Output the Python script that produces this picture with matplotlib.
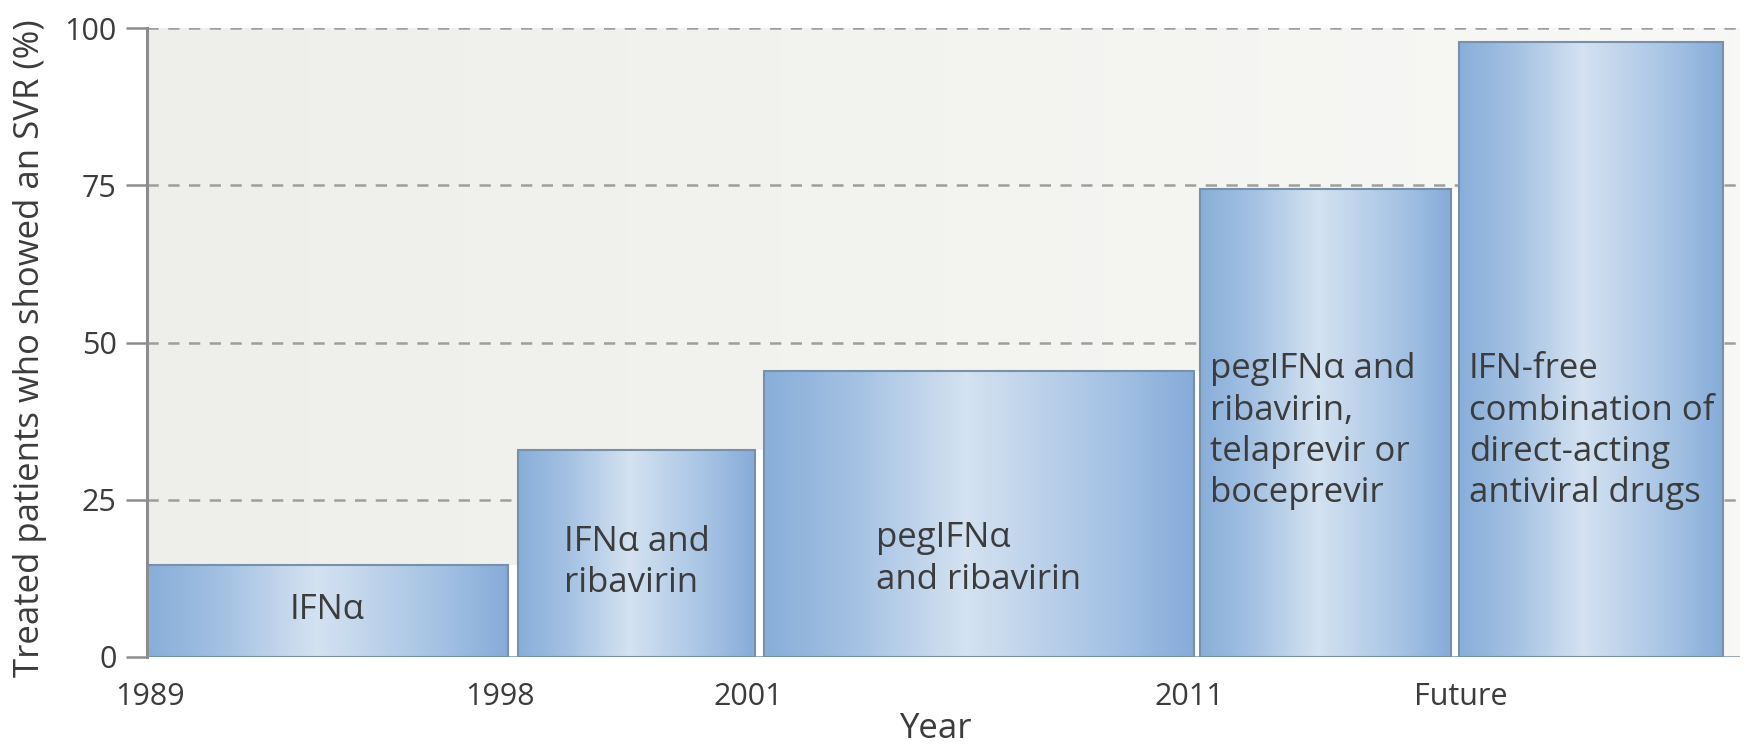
import numpy as np
import matplotlib
matplotlib.use("Agg")
import matplotlib.pyplot as plt
from matplotlib.colors import LinearSegmentedColormap
from matplotlib.patches import Rectangle

# ---- data ----
treatments = ["IFNα", "IFNα and\nribavirin", "pegIFNα\nand ribavirin",
              "pegIFNα and\nribavirin,\ntelaprevir or\nboceprevir",
              "IFN-free\ncombination of\ndirect-acting\nantiviral drugs"]
svr_values = [14.7, 32.9, 45.5, 74.4, 97.7]
x_tick_labels = ["1989", "1998", "2001", "2011", "Future"]
y_ticks = [0, 25, 50, 75, 100]

# ---- layout (schematic x axis, not linear in years) ----
bar_left = [0.00, 3.71, 6.17, 10.53, 13.12]
bar_right = [3.61, 6.08, 10.47, 13.04, 15.76]
x_tick_pos = [0.03, 3.53, 6.01, 10.42, 13.14]
text_style = ["center", "center", "center", "left", "left"]
text_y = [7.5, 15.0, 15.6, 35.9, 35.9]

plt.rcParams['font.family'] = ['Open Sans', 'DejaVu Sans']
txt_col = "#3c3c3c"
axis_col = "#8c8c8c"

fig = plt.figure(figsize=(17.46, 7.45), dpi=100)
ax = fig.add_axes([147/1746, (745-657)/745, (1740-147)/1746, (657-28)/745])

XMAX = 15.93
# background gradient
bg = LinearSegmentedColormap.from_list("bg", ["#eeeeea", "#f3f3f0", "#f8f8f6"])
ax.imshow(np.linspace(0, 1, 256)[None, :], extent=[0, XMAX, 0, 100],
          aspect="auto", cmap=bg, zorder=0)

# grid lines
for yv in y_ticks[1:]:
    ax.axhline(yv, color="#9e9e9e", lw=1.8, ls=(0, (4.5, 3.8)), zorder=1)

bar_cmap = LinearSegmentedColormap.from_list(
    "bar", [(0.0, "#88aed9"), (0.2, "#a2c0e2"), (0.47, "#d4e2f1"),
            (0.8, "#a6c3e4"), (1.0, "#86acd9")])
grad = np.linspace(0, 1, 256)[None, :]

# white gaps between adjacent bars
for i in range(len(svr_values) - 1):
    ax.add_patch(Rectangle((bar_right[i], 0), bar_left[i+1] - bar_right[i],
                           min(svr_values[i], svr_values[i+1]),
                           facecolor="white", edgecolor="none", zorder=1.5))

for i, v in enumerate(svr_values):
    l, r = bar_left[i], bar_right[i]
    ax.imshow(grad, extent=[l, r, 0, v], aspect="auto", cmap=bar_cmap, zorder=2)
    ax.add_patch(Rectangle((l, 0), r - l, v, facecolor="none",
                           edgecolor="#7891ab", lw=1.5, zorder=3))
    if text_style[i] == "center":
        ax.text((l + r) / 2, text_y[i], treatments[i], ha="center", va="center",
                multialignment="left", fontsize=25, color=txt_col,
                linespacing=1.28, zorder=4)
    else:
        ax.text(l + 0.1, text_y[i], treatments[i], ha="left", va="center",
                fontsize=25, color=txt_col, linespacing=1.28, zorder=4)

ax.set_xlim(0, XMAX)
ax.set_ylim(0, 100)

for s in ["top", "right", "bottom"]:
    ax.spines[s].set_visible(False)
ax.spines["left"].set_color(axis_col)
ax.spines["left"].set_linewidth(2.2)
ax.axhline(0, color="#7891ab", lw=1.8, zorder=3)

ax.set_yticks(y_ticks)
ax.set_yticklabels([str(t) for t in y_ticks])
ax.tick_params(axis="y", length=15, width=1.8, color=axis_col, pad=7,
               labelsize=22, labelcolor=txt_col)
ax.set_xticks(x_tick_pos)
ax.set_xticklabels(x_tick_labels)
ax.tick_params(axis="x", length=0, pad=18, labelsize=22, labelcolor=txt_col)

fig.text(935/1746, 1 - 729/745, "Year", ha="center", va="center",
         fontsize=25, color=txt_col)
fig.text(30/1746, 1 - 348/745, "Treated patients who showed an SVR (%)",
         rotation=90, ha="center", va="center", fontsize=25, color=txt_col)

fig.savefig("out.png", dpi=100, facecolor="white")
